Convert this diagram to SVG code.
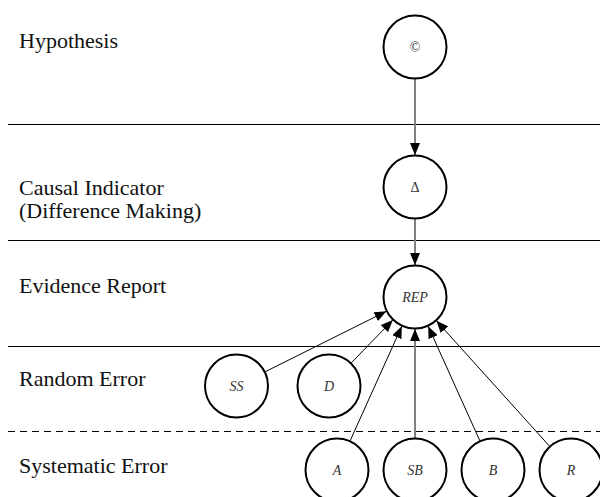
<svg xmlns="http://www.w3.org/2000/svg" width="600" height="497" viewBox="0 0 600 497">
<style>
text{font-family:"Times New Roman","Liberation Serif",Tinos,"Nimbus Roman","DejaVu Serif",serif}
.lbl{font-size:22px;fill:#111}
.node circle{fill:#fff;stroke:#000;stroke-width:2}
.node text{font-size:14px;font-style:italic;fill:#333;text-anchor:middle}
.sep{stroke:#000;stroke-width:1}
.edge{stroke:#000;stroke-width:1;fill:none}
.gedge{stroke:#808080;stroke-width:2;fill:none}
</style>
<defs>
<marker id="ah" markerUnits="userSpaceOnUse" markerWidth="12" markerHeight="10" refX="12" refY="5" orient="auto">
<path d="M0,0 L12,5 L0,10 z" fill="#000"/>
</marker>
</defs>
<rect width="600" height="497" fill="#fff"/>
<g id="layers">
<line class="sep" x1="8" y1="124.5" x2="600" y2="124.5"/>
<line class="sep" x1="8" y1="240.5" x2="600" y2="240.5"/>
<line class="sep" x1="8" y1="346.5" x2="600" y2="346.5"/>
<line class="sep" x1="8" y1="431.5" x2="600" y2="431.5" stroke-dasharray="7,5" stroke="#555"/>
<text class="lbl" x="19" y="48">Hypothesis</text>
<text class="lbl" x="19" y="195">Causal Indicator</text>
<text class="lbl" x="19" y="218">(Difference Making)</text>
<text class="lbl" x="19" y="293">Evidence Report</text>
<text class="lbl" x="19" y="386">Random Error</text>
<text class="lbl" x="19" y="473">Systematic Error</text>
</g>
<g id="connectors">
<line class="gedge" x1="415" y1="79" x2="415" y2="155" marker-end="url(#ah)"/>
<line class="gedge" x1="415" y1="219" x2="415" y2="265" marker-end="url(#ah)"/>
<line class="edge" x1="264.7" y1="372" x2="386.4" y2="311.3" marker-end="url(#ah)"/>
<line class="edge" x1="351.2" y1="363" x2="392.8" y2="320" marker-end="url(#ah)"/>
<line class="edge" x1="349.9" y1="441.3" x2="401.8" y2="326.2" marker-end="url(#ah)"/>
<line class="gedge" x1="415" y1="438.5" x2="415" y2="329" marker-end="url(#ah)"/>
<line class="edge" x1="480.1" y1="441.3" x2="428.2" y2="326.2" marker-end="url(#ah)"/>
<line class="edge" x1="549.9" y1="446.6" x2="436.4" y2="320.8" marker-end="url(#ah)"/>
</g>
<g id="n-hyp" class="node"><circle cx="415" cy="47" r="31.5"/><text x="415" y="52" style="font-style:normal">©</text></g>
<g id="n-delta" class="node"><circle cx="415" cy="187" r="31.5"/><text x="415" y="192" style="font-style:normal">Δ</text></g>
<g id="n-rep" class="node"><circle cx="415" cy="297" r="31.5"/><text x="415" y="302">REP</text></g>
<g id="n-ss" class="node"><circle cx="236.5" cy="386" r="31.5"/><text x="236.5" y="391">SS</text></g>
<g id="n-d" class="node"><circle cx="329" cy="386" r="31.5"/><text x="329" y="391">D</text></g>
<g id="n-a" class="node"><circle cx="337" cy="470" r="31.5"/><text x="337" y="475">A</text></g>
<g id="n-sb" class="node"><circle cx="415" cy="470" r="31.5"/><text x="415" y="475">SB</text></g>
<g id="n-b" class="node"><circle cx="493" cy="470" r="31.5"/><text x="493" y="475">B</text></g>
<g id="n-r" class="node"><circle cx="571" cy="470" r="31.5"/><text x="571" y="475">R</text></g>
</svg>
